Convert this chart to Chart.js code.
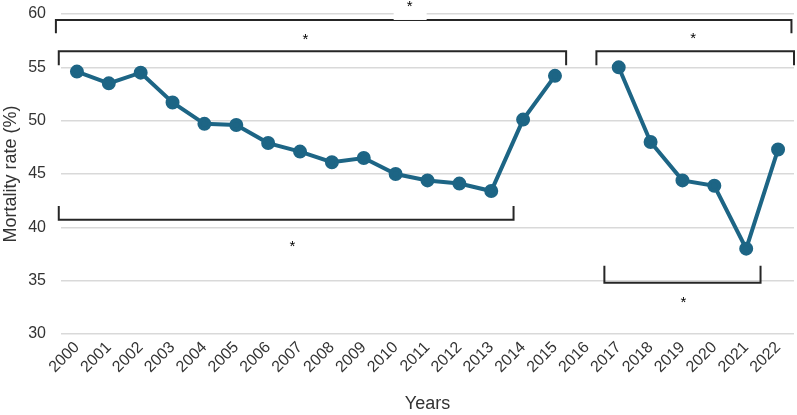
<!DOCTYPE html>
<html>
<head>
<meta charset="utf-8">
<script src="https://cdn.jsdelivr.net/npm/chart.js@4/dist/chart.umd.min.js"></script>
<style>
  html, body { margin: 0; padding: 0; background: #fff; overflow: hidden; }
  canvas { display: block; }
</style>
</head>
<body>
<canvas id="myChart" width="797" height="415"></canvas>
<script>
// years on the x axis, 2016 has no value
var years = ["2000", "2001", "2002", "2003", "2004", "2005", "2006", "2007", "2008", "2009", "2010", "2011",
    "2012", "2013", "2014", "2015", "2016", "2017", "2018", "2019", "2020", "2021", "2022"];
var mortality = [54.6, 53.5, 54.5, 51.7, 49.7, 49.6, 47.9, 47.1, 46.1, 46.5, 45.0, 44.4,
    44.1, 43.4, 50.1, 54.2, null, 55.0, 48.0, 44.4, 43.9, 38.0, 47.3];
var yTicks = [30, 35, 40, 45, 50, 55, 60];

// significance brackets, in category index / value units
var bracketFrom = [-0.66, -0.57, 16.3, -0.57, 16.55];
var bracketTo = [22.42, 15.35, 22.5, 13.7, 21.45];
var bracketLevel = [59.44, 56.5, 56.5, 40.7, 34.8];
var bracketTip = [58.2, 55.2, 55.2, 42.0, 36.4];
var starIndex = [10.44, 7.17, 19.34, 6.76, 19.03];
var starLevel = [60.94, 57.84, 57.94, 38.44, 33.2];

var font = '"Liberation Sans", Arial, sans-serif';

var bracketPlugin = {
    id: 'brackets',
    afterDatasetsDraw: function (chart) {
        var ctx = chart.ctx;
        var x = chart.scales.x;
        var y = chart.scales.y;
        ctx.save();
        ctx.strokeStyle = '#262626';
        ctx.lineWidth = 2;
        for (var i = 0; i < bracketFrom.length; i++) {
            var x0 = x.getPixelForValue(bracketFrom[i]);
            var x1 = x.getPixelForValue(bracketTo[i]);
            var yl = y.getPixelForValue(bracketLevel[i]);
            var yt = y.getPixelForValue(bracketTip[i]);
            ctx.beginPath();
            ctx.moveTo(x0, yt);
            ctx.lineTo(x0, yl);
            ctx.lineTo(x1, yl);
            ctx.lineTo(x1, yt);
            ctx.stroke();

            var sx = x.getPixelForValue(starIndex[i]);
            var sy = y.getPixelForValue(starLevel[i]);
            if (i === 0) {
                ctx.fillStyle = '#fff';
                ctx.fillRect(sx - 16, sy + 4, 33, 12);
            }
            ctx.fillStyle = '#000';
            ctx.font = '15px ' + font;
            ctx.textAlign = 'center';
            ctx.textBaseline = 'middle';
            ctx.fillText('*', sx, sy + 3);
        }
        ctx.restore();
    }
};

new Chart("myChart", {
    type: "line",
    data: {
        labels: years,
        datasets: [{
            data: mortality,
            borderColor: "#1d6585",
            backgroundColor: "#1d6585",
            borderWidth: 4,
            pointRadius: 5,
            pointHoverRadius: 5,
            spanGaps: false,
            tension: 0,
            clip: false
        }]
    },
    options: {
        responsive: false,
        animation: false,
        layout: { autoPadding: false, padding: { top: 14, right: 3, left: 0, bottom: 0 } },
        plugins: {
            legend: { display: false },
            tooltip: { enabled: false }
        },
        scales: {
            x: {
                offset: true,
                grid: { display: false, drawTicks: false },
                border: { display: false },
                ticks: {
                    minRotation: 45,
                    maxRotation: 45,
                    autoSkip: false,
                    padding: 4,
                    color: "#333333",
                    font: { size: 16, family: font }
                },
                title: {
                    display: true,
                    text: "Years",
                    color: "#333333",
                    padding: { top: 0, bottom: 0 },
                    font: { size: 18, family: font }
                },
                afterFit: function (scale) {
                    scale.height = 81;
                    scale.paddingLeft = 0;
                    scale.paddingRight = 0;
                }
            },
            y: {
                min: 30,
                max: 60,
                afterBuildTicks: function (scale) {
                    scale.ticks = yTicks.map(function (v) { return { value: v }; });
                },
                grid: { color: "#d9d9d9", lineWidth: 1.5, drawTicks: false },
                border: { display: false },
                ticks: {
                    padding: 15,
                    color: "#333333",
                    font: { size: 16, family: font }
                },
                title: {
                    display: true,
                    text: "Mortality rate (%)",
                    color: "#333333",
                    padding: { top: 0, bottom: 0 },
                    font: { size: 18, family: font }
                },
                afterFit: function (scale) {
                    scale.width = 61;
                    scale.paddingTop = 0;
                    scale.paddingBottom = 0;
                }
            }
        }
    },
    plugins: [bracketPlugin]
});
</script>
</body>
</html>
